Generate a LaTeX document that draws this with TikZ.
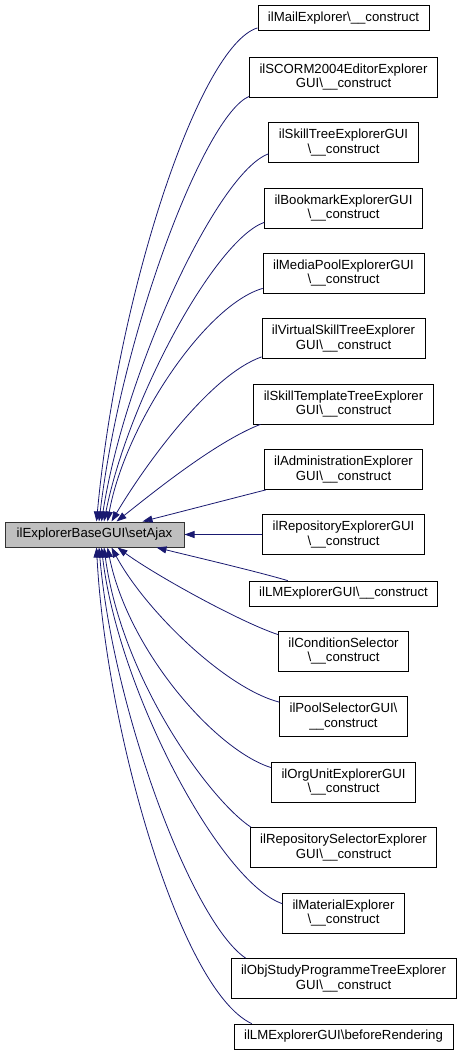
\documentclass[tikz,border=0pt]{standalone}
\usepackage{fontspec}
\setmainfont{Liberation Sans}
\usetikzlibrary{arrows.meta,calc}
\definecolor{edgeblue}{HTML}{191970}
\definecolor{maingray}{HTML}{BFBFBF}
\begin{document}
\begin{tikzpicture}[x=1pt,y=-1pt,
  box/.style={draw=black,line width=0.8pt,fill=white,inner xsep=10pt,inner ysep=0pt,align=center,font=\fontsize{13.2}{14.5}\selectfont},
  one/.style={box,minimum height=25pt},
  two/.style={box,minimum height=40pt},
  edge/.style={draw=edgeblue,line width=0.8pt,-{Triangle[length=10pt,width=7pt]}}]
\useasboundingbox (0,0) rectangle (460,1056);
\node[one,fill=maingray,draw=black!80,line width=1pt,minimum width=179pt] (m) at (94.5,534.5) {ilExplorerBaseGUI\textbackslash setAjax};
\node[one] (n1) at (343.5,18) {ilMailExplorer\textbackslash\_\_construct};
\node[two] (n2) at (343.5,77) {ilSCORM2004EditorExplorer\\GUI\textbackslash\_\_construct};
\node[two] (n3) at (343.5,142.5) {ilSkillTreeExplorerGUI\\\textbackslash\_\_construct};
\node[two] (n4) at (343.5,208) {ilBookmarkExplorerGUI\\\textbackslash\_\_construct};
\node[two] (n5) at (343.5,273) {ilMediaPoolExplorerGUI\\\textbackslash\_\_construct};
\node[two] (n6) at (343.5,338.5) {ilVirtualSkillTreeExplorer\\GUI\textbackslash\_\_construct};
\node[two] (n7) at (343.5,404) {ilSkillTemplateTreeExplorer\\GUI\textbackslash\_\_construct};
\node[two] (n8) at (343.5,469.5) {ilAdministrationExplorer\\GUI\textbackslash\_\_construct};
\node[two] (n9) at (343.5,534.5) {ilRepositoryExplorerGUI\\\textbackslash\_\_construct};
\node[one] (n10) at (343.5,593.5) {ilLMExplorerGUI\textbackslash\_\_construct};
\node[two] (n11) at (343.5,651) {ilConditionSelector\\\textbackslash\_\_construct};
\node[two] (n12) at (343.5,716.5) {ilPoolSelectorGUI\textbackslash\\\_\_construct};
\node[two] (n13) at (343.5,782) {ilOrgUnitExplorerGUI\\\textbackslash\_\_construct};
\node[two] (n14) at (343.5,847.5) {ilRepositorySelectorExplorer\\GUI\textbackslash\_\_construct};
\node[two] (n15) at (343.5,913) {ilMaterialExplorer\\\textbackslash\_\_construct};
\node[two] (n16) at (343.5,978.5) {ilObjStudyProgrammeTreeExplorer\\GUI\textbackslash\_\_construct};
\node[one] (n17) at (343.5,1036.5) {ilLMExplorerGUI\textbackslash beforeRendering};
% top edges
\draw[edge] ($(n1.south west)+(0,-3)$) .. controls (200,45) and (118,290) .. ($(m.north west)+(92,0)$);
\draw[edge] ($(n2.south west)+(0,-1)$) .. controls (205,115) and (122,330) .. ($(m.north west)+(94.5,0)$);
\draw[edge] ($(n3.south west)+(0,-9)$) .. controls (218,172) and (125,370) .. ($(m.north west)+(97,0)$);
\draw[edge] ($(n4.south west)+(0,-6)$) .. controls (215,240) and (128,400) .. ($(m.north west)+(99.5,0)$);
\draw[edge] ($(n5.south west)+(0,-5)$) .. controls (205,305) and (125,425) .. ($(m.north west)+(103,0)$);
\draw[edge] ($(n6.south west)+(0,-2)$) .. controls (210,375) and (145,465) .. ($(m.north west)+(107,0)$);
\draw[edge] ($(n7.south west)+(7,0)$) .. controls (215,442) and (150,495) .. ($(m.north west)+(112,0)$);
\draw[edge] ($(n8.south west)+(2,0)$) .. controls (230,499) and (180,512) .. ($(m.north west)+(138,0)$);
% straight
\draw[edge] (n9.west) -- (m.east);
% bottom edges
\draw[edge] ($(n10.north west)+(39,0)$) .. controls (255,571) and (195,557) .. ($(m.south west)+(152,0)$);
\draw[edge] ($(n11.north west)+(0,4)$) .. controls (240,622) and (155,575) .. ($(m.south west)+(113,0)$);
\draw[edge] ($(n12.north west)+(0,6)$) .. controls (225,688) and (145,610) .. ($(m.south west)+(107,0)$);
\draw[edge] ($(n13.north west)+(0,6)$) .. controls (215,750) and (128,650) .. ($(m.south west)+(103,0)$);
\draw[edge] ($(n14.north west)+(1,0)$) .. controls (210,800) and (122,680) .. ($(m.south west)+(99.5,0)$);
\draw[edge] ($(n15.north west)+(0,11)$) .. controls (220,882) and (118,690) .. ($(m.south west)+(97,0)$);
\draw[edge] ($(n16.north west)+(15,0)$) .. controls (192,922) and (113,710) .. ($(m.south west)+(94.5,0)$);
\draw[edge] ($(n17.north west)+(18,0)$) .. controls (180,990) and (106,730) .. ($(m.south west)+(92,0)$);
\end{tikzpicture}
\end{document}
